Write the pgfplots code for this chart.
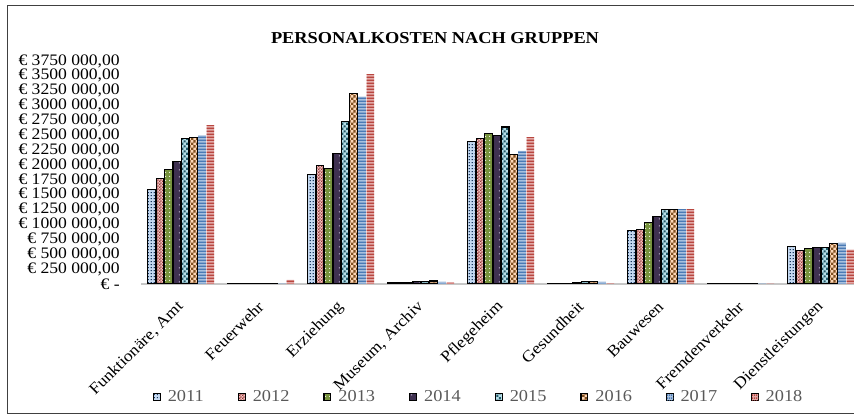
\documentclass[border=0pt]{standalone}
\usepackage{fontspec}
\setmainfont{Liberation Serif}[FakeStretch=1.1]
\usepackage{pgfplots}
\pgfplotsset{compat=1.18}
\usetikzlibrary{patterns}

% colours
\definecolor{f11}{HTML}{C5D9F1}\definecolor{p11}{HTML}{17375E}
\definecolor{f12}{HTML}{F2C4C3}\definecolor{p12}{HTML}{953735}
\definecolor{f13}{HTML}{76923C}\definecolor{p13}{HTML}{EBF1DE}
\definecolor{f14}{HTML}{3F3151}\definecolor{p14}{HTML}{CCC0DA}
\definecolor{f15}{HTML}{B7DEE8}\definecolor{p15}{HTML}{215968}
\definecolor{f16}{HTML}{FCD5B5}\definecolor{p16}{HTML}{7F4F1F}
\definecolor{f17}{HTML}{A7C0DE}\definecolor{p17}{HTML}{4A7AB4}
\definecolor{f18}{HTML}{E2AAA8}\definecolor{p18}{HTML}{B8463F}
\definecolor{legtext}{HTML}{595959}

% patterns
\pgfdeclarepatternformonly{pdotsA}{\pgfqpoint{0pt}{0pt}}{\pgfqpoint{2.4pt}{2.4pt}}{\pgfqpoint{2.4pt}{2.4pt}}{%
  \pgfpathrectangle{\pgfqpoint{0.7pt}{0.7pt}}{\pgfqpoint{1pt}{1pt}}\pgfusepath{fill}}
\pgfdeclarepatternformonly{pcheckA}{\pgfqpoint{0pt}{0pt}}{\pgfqpoint{2.4pt}{2.4pt}}{\pgfqpoint{2.4pt}{2.4pt}}{%
  \pgfpathrectangle{\pgfqpoint{0pt}{0pt}}{\pgfqpoint{1.2pt}{1.2pt}}%
  \pgfpathrectangle{\pgfqpoint{1.2pt}{1.2pt}}{\pgfqpoint{1.2pt}{1.2pt}}\pgfusepath{fill}}
\pgfdeclarepatternformonly{pdotsB}{\pgfqpoint{0pt}{0pt}}{\pgfqpoint{3pt}{3pt}}{\pgfqpoint{3pt}{3pt}}{%
  \pgfpathrectangle{\pgfqpoint{1pt}{1pt}}{\pgfqpoint{0.9pt}{0.9pt}}\pgfusepath{fill}}
\pgfdeclarepatternformonly{pdotsC}{\pgfqpoint{0pt}{0pt}}{\pgfqpoint{6pt}{5pt}}{\pgfqpoint{6pt}{5pt}}{%
  \pgfpathrectangle{\pgfqpoint{2.5pt}{2pt}}{\pgfqpoint{0.8pt}{0.8pt}}\pgfusepath{fill}}
\pgfdeclarepatternformonly{psqB}{\pgfqpoint{0pt}{0pt}}{\pgfqpoint{4pt}{4pt}}{\pgfqpoint{4pt}{4pt}}{%
  \pgfpathrectangle{\pgfqpoint{0.2pt}{0.2pt}}{\pgfqpoint{1.7pt}{1.7pt}}%
  \pgfpathrectangle{\pgfqpoint{2.2pt}{2.2pt}}{\pgfqpoint{1.7pt}{1.7pt}}\pgfusepath{fill}}
\pgfdeclarepatternformonly{pcheckB}{\pgfqpoint{0pt}{0pt}}{\pgfqpoint{4pt}{4pt}}{\pgfqpoint{4pt}{4pt}}{%
  \pgfpathrectangle{\pgfqpoint{0pt}{0pt}}{\pgfqpoint{2pt}{2pt}}%
  \pgfpathrectangle{\pgfqpoint{2pt}{2pt}}{\pgfqpoint{2pt}{2pt}}\pgfusepath{fill}}
\pgfdeclarepatternformonly{pstripes}{\pgfqpoint{0pt}{0pt}}{\pgfqpoint{1pt}{2pt}}{\pgfqpoint{1pt}{2pt}}{%
  \pgfpathrectangle{\pgfqpoint{0pt}{0pt}}{\pgfqpoint{1pt}{1.25pt}}\pgfusepath{fill}}

\pgfplotsset{
  legimg/.style={legend image code/.code={\draw[##1] (0pt,-2.6pt) rectangle (5.2pt,2.6pt);}},
  outl/.style={draw=black, line width=0.8pt},
}

\begin{document}
\begin{tikzpicture}
\draw[black!75, line width=0.7pt] (5.6pt,3.75pt) rectangle (680pt,309.75pt);
\node[font=\bfseries\fontsize{12.5}{14}\selectfont] at (326.25pt,285pt) {PERSONALKOSTEN NACH GRUPPEN};
\begin{axis}[
    at={(105.75pt,100.5pt)}, anchor=south west,
    width=540pt, height=167.25pt, scale only axis,
    ybar=0.6pt, bar width=5.7pt,
    xmin=-0.5, xmax=8.5, ymin=0, ymax=3750000,
    xtick={0,...,8},
    xticklabels={{Funktionäre, Amt},Feuerwehr,Erziehung,{Museum, Archiv},Pflegeheim,Gesundheit,Bauwesen,Fremdenverkehr,Dienstleistungen},
    ytick={0,250000,...,3750000},
    yticklabels={{€ -\hspace{7.5pt}},{€ 250 000,00},{€ 500 000,00},{€ 750 000,00},{€ 1000 000,00},{€ 1250 000,00},{€ 1500 000,00},{€ 1750 000,00},{€ 2000 000,00},{€ 2250 000,00},{€ 2500 000,00},{€ 2750 000,00},{€ 3000 000,00},{€ 3250 000,00},{€ 3500 000,00},{€ 3750 000,00}},
    scaled y ticks=false,
    major tick length=0pt,
    ticklabel style={font=\fontsize{12}{12}\selectfont},
    yticklabel style={anchor=east, inner sep=0pt, xshift=-15.75pt},
    xticklabel style={inner sep=0pt, yshift=-15pt, rotate=45, anchor=east},
    separate axis lines,
    axis x line*=bottom, axis y line*=left,
    x axis line style={draw=black!22, line width=1.5pt},
    y axis line style={draw=none},
    legend columns=8,
    legend style={at={(0.016,-0.507)}, anchor=west, draw=none, fill=none,
      inner sep=0pt, nodes={inner sep=0pt},
      font=\fontsize{12.5}{12.5}\selectfont, text=legtext,
      /tikz/every odd column/.append style={column sep=5.25pt},
      /tikz/every even column/.append style={column sep=25.5pt}},
]
\addplot[legimg, outl, fill=f11, postaction={pattern=pdotsA, pattern color=p11}] coordinates
  {(0,1590000) (1,5000) (2,1840000) (3,30000) (4,2390000) (5,15000) (6,900000) (7,10000) (8,630000)};
\addplot[legimg, outl, fill=f12, postaction={pattern=pcheckA, pattern color=p12}] coordinates
  {(0,1780000) (1,5000) (2,2000000) (3,30000) (4,2440000) (5,15000) (6,920000) (7,5000) (8,570000)};
\addplot[legimg, outl, fill=f13, postaction={pattern=pdotsB, pattern color=p13}] coordinates
  {(0,1930000) (1,5000) (2,1950000) (3,30000) (4,2530000) (5,15000) (6,1030000) (7,5000) (8,590000)};
\addplot[legimg, outl, fill=f14, postaction={pattern=pdotsC, pattern color=p14}] coordinates
  {(0,2060000) (1,5000) (2,2190000) (3,35000) (4,2490000) (5,20000) (6,1130000) (7,5000) (8,620000)};
\addplot[legimg, outl, fill=f15, postaction={pattern=psqB, pattern color=p15}] coordinates
  {(0,2440000) (1,5000) (2,2740000) (3,45000) (4,2640000) (5,40000) (6,1250000) (7,5000) (8,620000)};
\addplot[legimg, outl, fill=f16, postaction={pattern=pcheckB, pattern color=p16}] coordinates
  {(0,2470000) (1,5000) (2,3210000) (3,50000) (4,2180000) (5,40000) (6,1250000) (7,5000) (8,680000)};
\addplot[legimg, draw=none, fill=f17, postaction={pattern=pstripes, pattern color=p17}] coordinates
  {(0,2500000) (1,5000) (2,3150000) (3,35000) (4,2240000) (5,35000) (6,1260000) (7,5000) (8,690000)};
\addplot[legimg, draw=none, fill=f18, postaction={pattern=pstripes, pattern color=p18}] coordinates
  {(0,2670000) (1,70000) (2,3530000) (3,30000) (4,2470000) (5,10000) (6,1260000) (7,5000) (8,580000)};
\legend{2011,2012,2013,2014,2015,2016,2017,2018}
\end{axis}
\pgfresetboundingbox
\useasboundingbox (0pt,0pt) rectangle (640.5pt,313.5pt);
\end{tikzpicture}
\end{document}
